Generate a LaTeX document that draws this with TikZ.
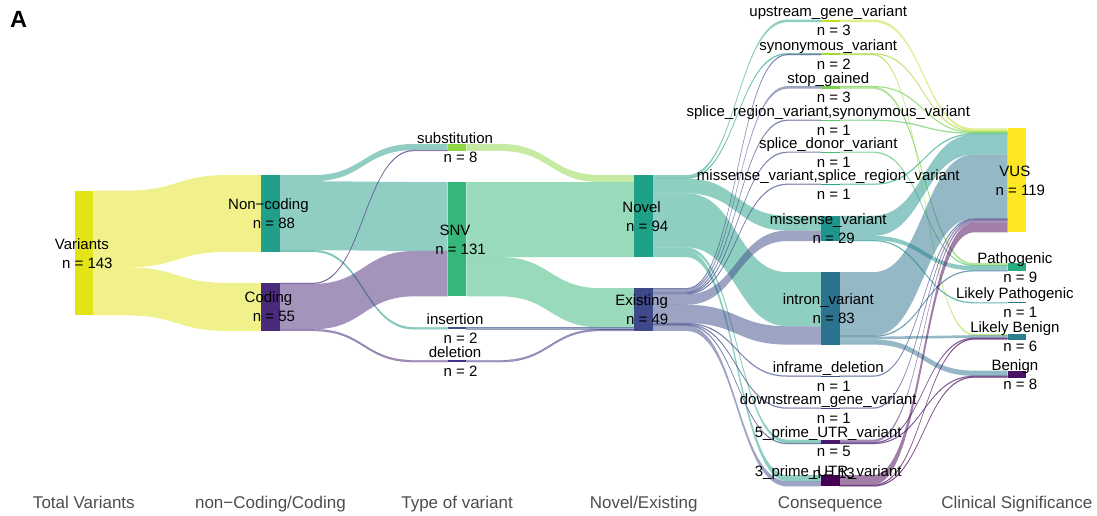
\documentclass[tikz,border=0pt]{standalone}
\usepackage{fontspec}
\setmainfont{Liberation Sans}
\usetikzlibrary{calc}
\pgfdeclarelayer{bg}
\pgfdeclarelayer{flows}
\pgfdeclarelayer{labels}
\pgfsetlayers{bg,flows,main,labels}

\definecolor{cVar}{HTML}{E3E418}
\definecolor{cNC}{HTML}{229F8A}
\definecolor{cCod}{HTML}{4A2A7B}
\definecolor{cSub}{HTML}{8FD744}
\definecolor{cSNV}{HTML}{35B779}
\definecolor{cIns}{HTML}{3B528B}
\definecolor{cDel}{HTML}{3F3485}
\definecolor{cNov}{HTML}{1FA187}
\definecolor{cExi}{HTML}{3D4989}
\definecolor{cUps}{HTML}{C2DF23}
\definecolor{cSyn}{HTML}{A2DA37}
\definecolor{cStop}{HTML}{7AD151}
\definecolor{cSplReg}{HTML}{5EC962}
\definecolor{cSplDon}{HTML}{4AC16D}
\definecolor{cMisSpl}{HTML}{25AB82}
\definecolor{cMis}{HTML}{1F948C}
\definecolor{cIntr}{HTML}{2A728E}
\definecolor{cInfr}{HTML}{3B528B}
\definecolor{cDown}{HTML}{414487}
\definecolor{cFut}{HTML}{481A6C}
\definecolor{cTut}{HTML}{440154}
\definecolor{cVUS}{HTML}{FDE725}
\definecolor{cPath}{HTML}{28AE80}
\definecolor{cLPath}{HTML}{2A788E}
\definecolor{cLBen}{HTML}{2A7F8E}
\definecolor{cBen}{HTML}{471164}
\definecolor{axisgray}{HTML}{4D4D4D}

\def\SC{0.8727}
\def\GAP{31.1}
\def\BW{18.7}
\def\MIDY{253}

\newcommand\startaxis[4]{%
  \pgfmathsetmacro\tmpY{\MIDY-(143*\SC+(#3-1)*\GAP)/2}%
  \xdef\curY{\tmpY}\xdef\curX{#2}%
  \pgfmathsetmacro\tmpX{#2+\BW/2}%
  \node[axislab] (#1) at (\tmpX,508) {#4};%
}

\newcommand\addnode[5][15]{%
  \pgfmathsetmacro\nhh{#3*\SC}%
  \expandafter\xdef\csname ot@#2\endcsname{0}%
  \expandafter\xdef\csname it@#2\endcsname{0}%
  \pgfmathsetmacro\ncx{\curX+\BW/2}%
  \pgfmathsetmacro\ncy{\curY+\nhh/2}%
  \node[bar, fill=c#2, minimum height=\nhh pt] (#2) at (\ncx,\ncy) {};%
  \pgfmathsetmacro\lly{\ncy-4}\pgfmathsetmacro\lny{\ncy+#1}%
  \pgfmathsetmacro\llx{\ncx-2}\pgfmathsetmacro\lnx{\ncx+3.5}%
  \begin{pgfonlayer}{labels}%
    \node[nodelab] (#2-name) at (\llx,\lly) {#4};%
    \node[nodelab] (#2-n) at (\lnx,\lny) {#5};%
  \end{pgfonlayer}%
  \pgfmathsetmacro\tmpY{\curY+\nhh+\GAP}\xdef\curY{\tmpY}%
}

\newcommand\sflow[3]{%
  \pgfmathsetmacro\fh{#3*\SC}%
  \edef\oA{\csname ot@#1\endcsname}%
  \edef\oB{\csname it@#2\endcsname}%
  \ifnum#3<3 \tikzset{curflow/.style={draw=c#1,line width=0.35pt}}\else\tikzset{curflow/.style={}}\fi
  \begin{pgfonlayer}{flows}%
    \path[flowfill,fill=c#1,curflow]
      let \p1=([yshift=-\oA pt]#1.north east), \p2=([yshift=-\oB pt]#2.north west),
          \n1={\x2-\x1}, \n2={\fh} in
      (\x1,\y1) -- ({\x1+0.2*\n1},\y1)
      .. controls ({\x1+0.5*\n1},\y1) and ({\x1+0.5*\n1},\y2) .. ({\x2-0.2*\n1},\y2)
      -- (\x2,\y2) -- (\x2,{\y2-\n2}) -- ({\x2-0.2*\n1},{\y2-\n2})
      .. controls ({\x1+0.5*\n1},{\y2-\n2}) and ({\x1+0.5*\n1},{\y1-\n2}) .. ({\x1+0.2*\n1},{\y1-\n2})
      -- (\x1,{\y1-\n2}) -- cycle;%
  \end{pgfonlayer}%
  \pgfmathsetmacro\tmpA{\oA+\fh}\expandafter\xdef\csname ot@#1\endcsname{\tmpA}%
  \pgfmathsetmacro\tmpB{\oB+\fh}\expandafter\xdef\csname it@#2\endcsname{\tmpB}%
}

\tikzset{
  bar/.style={rectangle, inner sep=0pt, outer sep=0pt, draw=none, minimum width=18.7pt},
  nodelab/.style={font=\fontsize{15}{18}\selectfont, inner sep=0pt, anchor=base, text=black},
  axislab/.style={font=\fontsize{17}{20}\selectfont, inner sep=0pt, anchor=base, text=axisgray},
  flowfill/.style={fill opacity=0.5, draw opacity=0.5},
  curflow/.style={}
}

\begin{document}
\begin{tikzpicture}[x=1pt,y=-1pt]
\useasboundingbox (0,0) rectangle (1097,515);
\begin{pgfonlayer}{bg}
\fill[white] (0,0) rectangle (1097,515);
\end{pgfonlayer}
\node[font=\bfseries\fontsize{23.5}{26}\selectfont, anchor=base west, inner sep=0pt] (panel) at (10,27) {A};

\startaxis{axTot}{74.5}{1}{Total Variants}
\addnode{Var}{143}{Variants}{n = 143}

\startaxis{axNC}{261.1}{2}{non−Coding/Coding}
\addnode{NC}{88}{Non−coding}{n = 88}
\addnode{Cod}{55}{Coding}{n = 55}

\startaxis{axType}{447.7}{4}{Type of variant}
\addnode{Sub}{8}{substitution}{n = 8}
\addnode{SNV}{131}{SNV}{n = 131}
\addnode{Ins}{2}{insertion}{n = 2}
\addnode{Del}{2}{deletion}{n = 2}

\startaxis{axNov}{634.3}{2}{Novel/Existing}
\addnode{Nov}{94}{Novel}{n = 94}
\addnode{Exi}{49}{Existing}{n = 49}

\startaxis{axCons}{820.9}{12}{Consequence}
\addnode{Ups}{3}{upstream\_gene\_variant}{n = 3}
\addnode{Syn}{2}{synonymous\_variant}{n = 2}
\addnode{Stop}{3}{stop\_gained}{n = 3}
\addnode{SplReg}{1}{splice\_region\_variant,synonymous\_variant}{n = 1}
\addnode{SplDon}{1}{splice\_donor\_variant}{n = 1}
\addnode{MisSpl}{1}{missense\_variant,splice\_region\_variant}{n = 1}
\addnode{Mis}{29}{missense\_variant}{n = 29}
\addnode{Intr}{83}{intron\_variant}{n = 83}
\addnode{Infr}{1}{inframe\_deletion}{n = 1}
\addnode{Down}{1}{downstream\_gene\_variant}{n = 1}
\addnode{Fut}{5}{5\_prime\_UTR\_variant}{n = 5}
\addnode[-2]{Tut}{13}{3\_prime\_UTR\_variant}{n = 13}

\startaxis{axClin}{1007.5}{5}{Clinical Significance}
\addnode{VUS}{119}{VUS}{n = 119}
\addnode{Path}{9}{Pathogenic}{n = 9}
\addnode{LPath}{1}{Likely Pathogenic}{n = 1}
\addnode{LBen}{6}{Likely Benign}{n = 6}
\addnode{Ben}{8}{Benign}{n = 8}

% stage 1
\sflow{Var}{NC}{88}
\sflow{Var}{Cod}{55}
% stage 2
\sflow{NC}{Sub}{7}
\sflow{NC}{SNV}{79}
\sflow{NC}{Ins}{2}
\sflow{Cod}{Sub}{1}
\sflow{Cod}{SNV}{52}
\sflow{Cod}{Del}{2}
% stage 3
\sflow{Sub}{Nov}{8}
\sflow{SNV}{Nov}{86}
\sflow{SNV}{Exi}{45}
\sflow{Ins}{Exi}{2}
\sflow{Del}{Exi}{2}
% stage 4
\sflow{Nov}{Ups}{3}
\sflow{Nov}{Syn}{1}
\sflow{Nov}{Mis}{17}
\sflow{Nov}{Intr}{62}
\sflow{Nov}{Fut}{4}
\sflow{Nov}{Tut}{7}
\sflow{Exi}{Syn}{1}
\sflow{Exi}{Stop}{3}
\sflow{Exi}{SplReg}{1}
\sflow{Exi}{SplDon}{1}
\sflow{Exi}{MisSpl}{1}
\sflow{Exi}{Mis}{12}
\sflow{Exi}{Intr}{21}
\sflow{Exi}{Infr}{1}
\sflow{Exi}{Down}{1}
\sflow{Exi}{Fut}{1}
\sflow{Exi}{Tut}{6}
% stage 5
\sflow{Ups}{VUS}{3}
\sflow{Syn}{VUS}{1}
\sflow{Syn}{LBen}{1}
\sflow{Stop}{VUS}{1}
\sflow{Stop}{Path}{2}
\sflow{SplReg}{VUS}{1}
\sflow{SplDon}{Path}{1}
\sflow{MisSpl}{VUS}{1}
\sflow{Mis}{VUS}{23}
\sflow{Mis}{Path}{5}
\sflow{Mis}{LPath}{1}
\sflow{Intr}{VUS}{73}
\sflow{Intr}{Path}{1}
\sflow{Intr}{LBen}{3}
\sflow{Intr}{Ben}{6}
\sflow{Infr}{VUS}{1}
\sflow{Down}{VUS}{1}
\sflow{Fut}{VUS}{3}
\sflow{Fut}{LBen}{1}
\sflow{Fut}{Ben}{1}
\sflow{Tut}{VUS}{11}
\sflow{Tut}{LBen}{1}
\sflow{Tut}{Ben}{1}
\end{tikzpicture}
\end{document}
